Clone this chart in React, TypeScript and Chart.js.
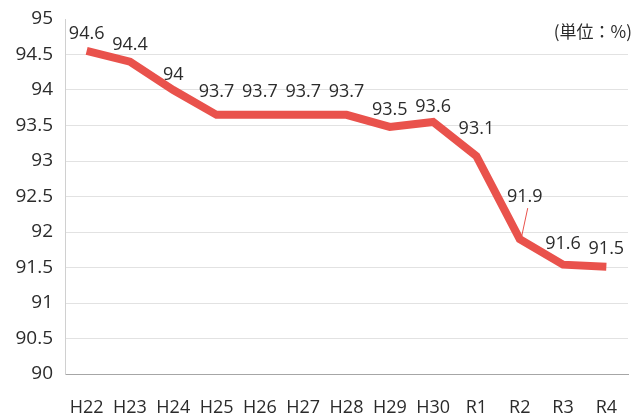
import React, { useEffect, useRef } from "react";
import { Chart, registerables } from "chart.js";

Chart.register(...registerables);

const categories = ["H22", "H23", "H24", "H25", "H26", "H27", "H28", "H29", "H30", "R1", "R2", "R3", "R4"];
const values = [94.55, 94.4, 94.0, 93.65, 93.65, 93.65, 93.65, 93.48, 93.55, 93.07, 91.9, 91.54, 91.51];
const valueLabels = ["94.6", "94.4", "94", "93.7", "93.7", "93.7", "93.7", "93.5", "93.6", "93.1", "91.9", "91.6", "91.5"];
const unitLabel = "(単位：%)";

const FONT = "'Open Sans', 'Noto Sans CJK JP', sans-serif";
const CJK_FONT = "'Noto Sans CJK JP', 'Open Sans', sans-serif";
const labelDy = [17, 17, 15, 23, 23, 23, 23, 17, 15, 27, 42, 21, 18];
const labelDx = [0, 0, 0, 0, 0, 0, 0, 0, 0, 0, 5, 0, 0];

const labelPlugin = {
  id: "valueLabels",
  afterDatasetsDraw(chart: any) {
    const ctx = chart.ctx;
    const meta = chart.getDatasetMeta(0);
    ctx.save();
    ctx.font = `18px ${FONT}`;
    ctx.fillStyle = "#2b2b2b";
    ctx.textAlign = "center";
    ctx.textBaseline = "middle";
    meta.data.forEach((pt: any, i: number) => {
      const x = pt.x + labelDx[i];
      const y = pt.y - labelDy[i];
      ctx.fillText(valueLabels[i], x, y);
      if (i === 10) {
        ctx.strokeStyle = "#E9524C";
        ctx.lineWidth = 1;
        ctx.beginPath();
        ctx.moveTo(x + 3, y + 11);
        ctx.lineTo(pt.x + 2, pt.y - 3);
        ctx.stroke();
      }
    });
    ctx.font = `17px ${CJK_FONT}`;
    ctx.textAlign = "right";
    ctx.fillStyle = "#2b2b2b";
    ctx.fillText(unitLabel, chart.chartArea.right + 4, 32);
    ctx.restore();
  },
};

export default function App() {
  const ref = useRef<HTMLCanvasElement>(null);
  useEffect(() => {
    if (!ref.current) return;
    const chart = new Chart(ref.current, {
      type: "line",
      data: {
        labels: categories,
        datasets: [
          {
            data: values,
            borderColor: "#E9524C",
            backgroundColor: "#E9524C",
            borderWidth: 8,
            pointRadius: 0,
            tension: 0,
            borderJoinStyle: "miter",
            borderCapStyle: "butt",
          },
        ],
      },
      options: {
        responsive: false,
        animation: false,
        layout: { padding: { top: 19, right: 8, left: 0, bottom: 0 } },
        plugins: { legend: { display: false }, tooltip: { enabled: false } },
        scales: {
          x: {
            offset: true,
            grid: { display: false },
            border: { display: true, color: "#a6a6a6", width: 1 },
            ticks: { color: "#2b2b2b", font: { family: FONT, size: 18 }, padding: 15, maxRotation: 0, autoSkip: false },
            afterFit: (s: any) => { s.height = 39; s.paddingLeft = 0; s.paddingRight = 0; },
          },
          y: {
            min: 90,
            max: 95,
            ticks: {
              stepSize: 0.5,
              color: "#2b2b2b",
              font: { family: FONT, size: 19 },
              padding: 12,
              callback: (v: any) => String(Math.round(Number(v) * 10) / 10),
            },
            grid: {
              color: (c: any) => (c.tick && c.tick.value === 95 ? "rgba(0,0,0,0)" : "#e2e2e2"),
              lineWidth: 1,
              drawTicks: false,
            },
            border: { display: true, color: "#d0d0d0", width: 1 },
            afterFit: (s: any) => { s.width = 65; s.paddingTop = 0; s.paddingBottom = 0; },
          },
        },
      },
      plugins: [labelPlugin],
    });
    return () => chart.destroy();
  }, []);
  return (
    <div style={{ position: "absolute", left: 0, top: 0, width: 636, height: 413, background: "#fff" }}>
      <canvas ref={ref} width={636} height={413} />
    </div>
  );
}
